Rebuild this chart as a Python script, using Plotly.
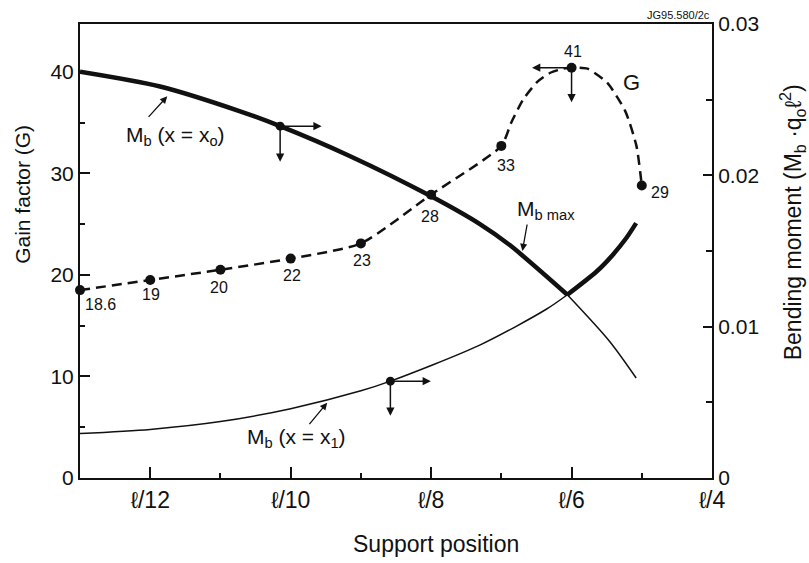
import plotly.graph_objects as go

# ---------------- data ----------------
tick_pos = [0, 1, 2, 3, 4]
tick_labels = ["ℓ/12", "ℓ/10", "ℓ/8", "ℓ/6", "ℓ/4"]

# Gain factor G (left axis)
g_x = [-0.5, 0.0, 0.5, 1.0, 1.5, 2.0, 2.5, 3.0, 3.5]
g_y = [18.5, 19.5, 20.5, 21.6, 23.1, 27.9, 32.7, 40.4, 28.8]
g_labels = ["18.6", "19", "20", "22", "23", "28", "33", "41", "29"]
# dashed G curve traced through the points and read intermediate positions
g_curve_x = [-0.5, 0.0, 0.5, 1.0, 1.5, 2.0, 2.5, 2.571, 2.657, 2.756, 2.849, 2.942, 3.0,
             3.113, 3.255, 3.383, 3.462, 3.5]
g_curve_y = [18.5, 19.5, 20.5, 21.6, 23.1, 27.9, 32.7, 35.0, 37.3, 39.0, 39.9, 40.3, 40.4,
             40.3, 38.9, 36.1, 32.7, 28.8]

# Bending moment Mb(x = xo) (right axis)
mb0_x = [-0.5, 0.07, 0.64, 0.925, 1.42, 1.99, 2.35, 2.56, 2.97, 3.27, 3.46]
mb0_y = [0.02685, 0.02587, 0.02423, 0.02325, 0.02128, 0.01866, 0.01676, 0.01539, 0.01211, 0.00904, 0.00661]
# Bending moment Mb(x = x1) (right axis)
mb1_x = [-0.5, 0.0, 0.5, 1.0, 1.5, 1.71, 2.35, 2.82, 2.97, 3.18, 3.29, 3.39, 3.46]
mb1_y = [0.00294, 0.00321, 0.00373, 0.00458, 0.00576, 0.00640, 0.00880, 0.01115, 0.01211, 0.01366,
         0.01471, 0.01586, 0.01684]
cross_idx0 = 8    # crossing (Mb max switches curve)
cross_idx1 = 8
mark_idx0 = 3     # arrowed point on Mb(x=xo)
mark_idx1 = 5     # arrowed point on Mb(x=x1)
mark_idx_g = 7    # arrowed point on G (41)

FONT = "Liberation Sans, Arial, Helvetica, sans-serif"
BLACK = "#111111"

fig = go.Figure()

# G dashed curve
fig.add_trace(go.Scatter(x=g_curve_x, y=g_curve_y, mode="lines", yaxis="y",
                         line=dict(color=BLACK, width=2.5, dash="10px,6px", shape="spline", smoothing=0.6),
                         cliponaxis=False, showlegend=False, hoverinfo="skip"))
fig.add_trace(go.Scatter(x=g_x, y=g_y, mode="markers", yaxis="y",
                         marker=dict(color=BLACK, size=10), cliponaxis=False, showlegend=False))

# Mb(x=xo): thick up to crossing, thin afterwards
fig.add_trace(go.Scatter(x=mb0_x[:cross_idx0 + 1], y=mb0_y[:cross_idx0 + 1], mode="lines", yaxis="y2",
                         line=dict(color=BLACK, width=4.5, shape="spline", smoothing=0.8),
                         cliponaxis=False, showlegend=False))
fig.add_trace(go.Scatter(x=mb0_x[cross_idx0:], y=mb0_y[cross_idx0:], mode="lines", yaxis="y2",
                         line=dict(color=BLACK, width=1.5, shape="spline", smoothing=0.8),
                         showlegend=False))
# Mb(x=x1): thin up to crossing, thick afterwards
fig.add_trace(go.Scatter(x=mb1_x[:cross_idx1 + 1], y=mb1_y[:cross_idx1 + 1], mode="lines", yaxis="y2",
                         line=dict(color=BLACK, width=1.5, shape="spline", smoothing=0.8),
                         cliponaxis=False, showlegend=False))
fig.add_trace(go.Scatter(x=mb1_x[cross_idx1:], y=mb1_y[cross_idx1:], mode="lines", yaxis="y2",
                         line=dict(color=BLACK, width=4.5, shape="spline", smoothing=0.8),
                         showlegend=False))
# arrowed points on Mb curves
fig.add_trace(go.Scatter(x=[mb0_x[mark_idx0], mb1_x[mark_idx1]], y=[mb0_y[mark_idx0], mb1_y[mark_idx1]],
                         mode="markers", yaxis="y2", marker=dict(color=BLACK, size=9), showlegend=False))

ann = []
# point labels of G
label_shift = [(20, -14), (1, -15), (-1, -18), (1, -17), (1, -17), (-1, -22), (5, -20), (1, 16), (18, -7)]
for xv, yv, t, (dx, dy) in zip(g_x, g_y, g_labels, label_shift):
    ann.append(dict(x=xv, y=yv, xref="x", yref="y", text=t, showarrow=False,
                    xshift=dx, yshift=dy, font=dict(family=FONT, size=16, color=BLACK)))

def arrow_from(xv, yv, yref, ax, ay):
    return dict(x=xv, y=yv, xref="x", yref=yref, text="", showarrow=True,
                ax=ax, ay=ay, axref="pixel", ayref="pixel",
                arrowside="start", startarrowhead=2, arrowhead=2, startarrowsize=1.1,
                arrowwidth=1.5, arrowcolor=BLACK, standoff=0, startstandoff=0)

ann.append(arrow_from(mb0_x[mark_idx0], mb0_y[mark_idx0], "y2", 43, 0))
ann.append(arrow_from(mb0_x[mark_idx0], mb0_y[mark_idx0], "y2", 0, 37))
ann.append(arrow_from(mb1_x[mark_idx1], mb1_y[mark_idx1], "y2", 42, 0))
ann.append(arrow_from(mb1_x[mark_idx1], mb1_y[mark_idx1], "y2", 0, 36))
ann.append(arrow_from(g_x[mark_idx_g], g_y[mark_idx_g], "y", -41, 0))
ann.append(arrow_from(g_x[mark_idx_g], g_y[mark_idx_g], "y", 0, 36))

# curve labels with pointer arrows
def pointer(xv, yv, ax, ay):
    return dict(x=xv, y=yv, xref="x", yref="y2", text="", showarrow=True, ax=ax, ay=ay,
                arrowhead=2, arrowsize=1.1, arrowwidth=1.3, arrowcolor=BLACK, standoff=0)

ann.append(dict(x=0.18, y=0.02258, xref="x", yref="y2", text="M<sub>b</sub> (x = x<sub>o</sub>)",
                showarrow=False, font=dict(family=FONT, size=21, color=BLACK)))
ann.append(pointer(0.121, 0.02522, -20, 22))
ann.append(dict(x=1.04, y=0.00262, xref="x", yref="y2", text="M<sub>b</sub> (x = x<sub>1</sub>)",
                showarrow=False, font=dict(family=FONT, size=21, color=BLACK)))
ann.append(pointer(1.26, 0.00498, -19, 23))
ann.append(dict(x=2.82, y=0.01770, xref="x", yref="y2", text="M<sub>b max</sub>",
                showarrow=False, font=dict(family=FONT, size=21, color=BLACK)))
ann.append(pointer(2.65, 0.01500, 5, -28))
ann.append(dict(x=3.43, y=38.9, xref="x", yref="y", text="G", showarrow=False,
                font=dict(family=FONT, size=22, color=BLACK)))
ann.append(dict(x=1.0, y=1.0, xref="paper", yref="paper", text="JG95.580/2c", showarrow=False,
                xanchor="right", yanchor="bottom", yshift=1, font=dict(family=FONT, size=11, color=BLACK)))

# axis titles
ann.append(dict(x=0.563, y=-0.146, xref="paper", yref="paper", text="Support position", showarrow=False,
                xanchor="center", yanchor="middle", font=dict(family=FONT, size=23, color=BLACK)))
ann.append(dict(x=-0.09, y=0.624, xref="paper", yref="paper", text="Gain factor (G)", showarrow=False,
                xanchor="center", yanchor="middle",
                textangle=-90, font=dict(family=FONT, size=21, color=BLACK)))
ann.append(dict(x=1.128, y=0.563, xref="paper", yref="paper",
                text="Bending moment (M<sub>b</sub> ·q<sub>o</sub>ℓ<sup>2</sup>)", showarrow=False,
                xanchor="center", yanchor="middle",
                textangle=-90, font=dict(family=FONT, size=23, color=BLACK)))

fig.update_layout(
    width=809, height=563,
    margin=dict(l=80, r=97, t=20, b=85),
    plot_bgcolor="white", paper_bgcolor="white",
    font=dict(family=FONT, color=BLACK),
    annotations=ann,
    hovermode=False,
    xaxis=dict(range=[-0.5, 4], tickmode="array", tickvals=tick_pos, ticktext=tick_labels,
               ticks="inside", ticklen=11, tickwidth=1.5, tickcolor=BLACK,
               minor=dict(tickmode="array", tickvals=[0.5, 1.5, 2.5, 3.5], ticks="inside", ticklen=5,
                          tickwidth=1.5, tickcolor=BLACK),
               showline=True, linewidth=2, linecolor=BLACK, mirror=True,
               showgrid=False, zeroline=False, tickfont=dict(size=23)),
    yaxis=dict(range=[0, 44.7], tickmode="array", tickvals=[0, 10, 20, 30, 40],
               ticks="inside", ticklen=10, tickwidth=1.5, tickcolor=BLACK,
               minor=dict(tickmode="array", tickvals=[5, 15, 25, 35], ticks="inside", ticklen=5,
                          tickwidth=1.5, tickcolor=BLACK),
               showline=True, linewidth=2, linecolor=BLACK,
               showgrid=False, zeroline=False, tickfont=dict(size=21)),
    yaxis2=dict(range=[0, 0.03], overlaying="y", side="right", tickmode="array",
                tickvals=[0, 0.01, 0.02, 0.03], ticktext=["0", "0.01", "0.02", "0.03"],
                ticks="inside", ticklen=9, tickwidth=1.5, tickcolor=BLACK,
                minor=dict(tickmode="array", tickvals=[0.005, 0.015, 0.025], ticks="inside", ticklen=6,
                           tickwidth=1.5, tickcolor=BLACK),
                showline=True, linewidth=2, linecolor=BLACK,
                showgrid=False, zeroline=False, tickfont=dict(size=21)),
)

fig.write_html("out.html", config={"displayModeBar": False},
               post_script="document.body.style.margin='0px';document.body.style.overflow='hidden';")
